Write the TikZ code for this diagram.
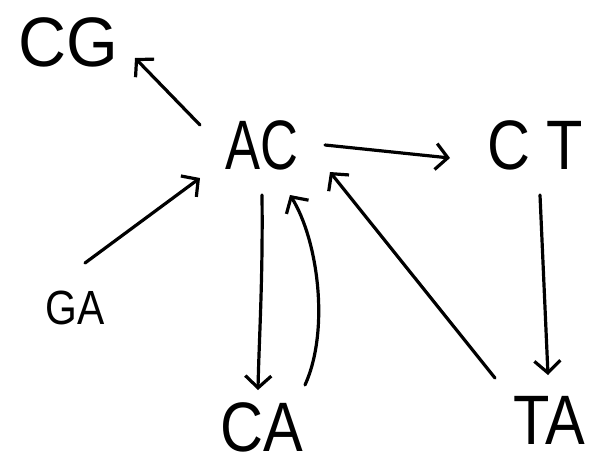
\documentclass[tikz,border=0pt]{standalone}
\usepackage{fontspec}
\setmainfont{Liberation Sans}
\usetikzlibrary{arrows.meta}
\begin{document}
\begin{tikzpicture}[x=1pt,y=-1pt,
  big/.style={font=\fontsize{70}{70}\selectfont, inner sep=0pt},
  small/.style={font=\fontsize{48}{48}\selectfont, inner sep=0pt},
  link/.style={line width=3.2pt, line cap=round, line join=round,
    -{Straight Barb[length=12pt,width=26pt,line width=3.2pt]}}]
\clip (0,0) rectangle (590,456);
\fill[white] (0,0) rectangle (590,456);
% states
\node[big]   (cg) at (68,42)   {\scalebox{0.95}[1]{CG}};
\node[big]   (ac) at (262,145) {\scalebox{0.75}[1]{AC}};
\node[big]   (ct) at (535,145) {\scalebox{0.85}[1]{C T}};
\node[small] (ga) at (75,308)  {\scalebox{0.85}[1]{GA}};
\node[big]   (ca) at (262,427) {\scalebox{0.85}[1]{CA}};
\node[big]   (ta) at (549,420) {\scalebox{0.85}[1]{TA}};
% transitions
\draw[link] ([shift={(-62,-20)}]ac.center) -- ([shift={(67,16)}]cg.center);
\draw[link] ([shift={(63,0)}]ac.center) -- ([shift={(-85,13)}]ct.center);
\draw[link] ([shift={(10,-45)}]ga.center) -- ([shift={(-62,33)}]ac.center);
\draw[link] ([shift={(0,50)}]ac.center) .. controls (263,280) and (259,340) .. ([shift={(-4,-37)}]ca.center);
\draw[link] ([shift={(43,-42)}]ca.center) .. controls (330,330) and (318,240) .. ([shift={(28,50)}]ac.center);
\draw[link] ([shift={(-54,-42)}]ta.center) -- ([shift={(68,27)}]ac.center);
\draw[link] ([shift={(5,50)}]ct.center) -- ([shift={(-1,-45)}]ta.center);
\end{tikzpicture}
\end{document}
